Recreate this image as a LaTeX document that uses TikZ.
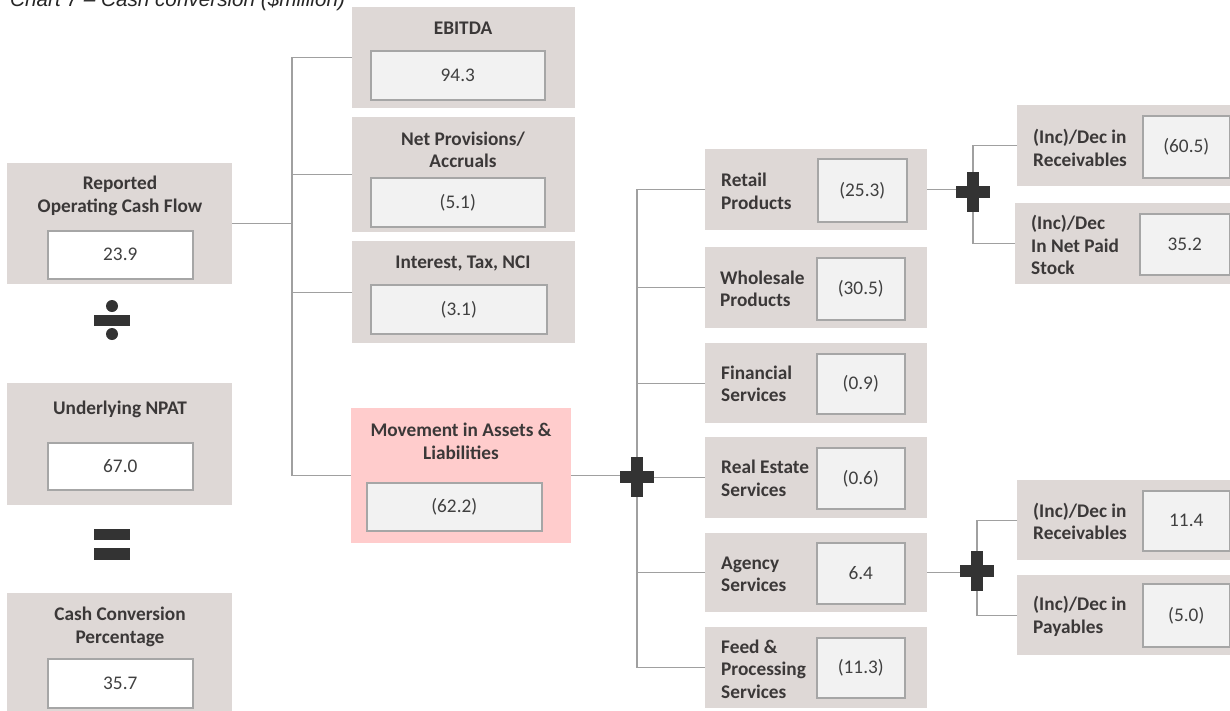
\documentclass[tikz,border=0pt]{standalone}
\usepackage{fontspec}
\setmainfont{Carlito}
\newfontfamily\titlefont{Liberation Sans}
\definecolor{og}{RGB}{222,216,214}
\definecolor{pk}{RGB}{255,204,204}
\definecolor{ig}{RGB}{242,242,242}
\definecolor{ib}{RGB}{166,166,166}
\definecolor{lc}{RGB}{160,160,160}
\definecolor{tc}{RGB}{59,56,56}
\definecolor{vc}{RGB}{64,64,64}
\definecolor{sym}{RGB}{51,51,51}
\tikzset{
 outer/.style={fill=og, draw=none},
 pinkbox/.style={fill=pk, draw=none},
 inner/.style={fill=ig, draw=ib, line width=1.6pt, text=vc, font=\fontsize{19.3}{22.5}\selectfont},
 innerw/.style={inner, fill=white},
 ttl/.style={font=\fontsize{19.3}{22.5}\selectfont\bfseries, text=tc, align=center, inner sep=0pt},
 ttll/.style={ttl, align=left, anchor=west},
 conn/.style={draw=lc, line width=1.3pt},
 symb/.style={fill=sym, draw=none},
 plussign/.pic={\fill[symb] (-17,-6) rectangle (17,6); \fill[symb] (-6,-20) rectangle (6,20);}
}
\newcommand\bx[7]{\node[#1, inner sep=0pt, minimum width={(#5-#3)*1pt}, minimum height={(#6-#4)*1pt}, anchor=north west] (#2) at (#3,-#4) {#7};}
\begin{document}
\begin{tikzpicture}[x=1pt,y=1pt]
\useasboundingbox (0,0) rectangle (1230,-710);
\clip (0,0) rectangle (1230,-710);
% title (cut at top)
\node[anchor=base west, font=\titlefont\itshape\fontsize{20.7}{24}\selectfont, text=black!85, inner sep=0pt] (title) at (10,-6.7) {Chart 7 – Cash conversion (\$million)};
% left column
\bx{outer}{rocf}{7}{163}{232}{284}{}
\node[ttl] (rocft) at (120,-196) {Reported\\Operating Cash Flow};
\bx{innerw}{rocfv}{47}{230}{192}{278}{23.9}
\bx{outer}{npat}{7}{383}{232}{505}{}
\node[ttl] (npatt) at (120,-409) {Underlying NPAT};
\bx{innerw}{npatv}{47}{442}{192}{489}{67.0}
\bx{outer}{ccp}{7}{593}{232}{712}{}
\node[ttl] (ccpt) at (120,-627) {Cash Conversion\\Percentage};
\bx{innerw}{ccpv}{47}{658}{192}{707}{35.7}
% divide and equals
\fill[symb] (112,-306) circle (6);
\fill[symb] (112,-334) circle (6);
\fill[symb] (94,-315) rectangle (130,-326);
\fill[symb] (94,-529) rectangle (130,-540);
\fill[symb] (94,-548) rectangle (130,-560);
% middle column
\bx{outer}{ebit}{352}{7}{575}{108}{}
\node[ttl] (ebitt) at (463,-28) {EBITDA};
\bx{inner}{ebitv}{370}{50}{544}{99}{94.3}
\bx{outer}{netp}{352}{117}{575}{232}{}
\node[ttl] (netpt) at (463,-150) {Net Provisions/\\Accruals};
\bx{inner}{netpv}{370}{177}{544}{226}{(5.1)}
\bx{outer}{intr}{352}{241}{575}{343}{}
\node[ttl] (intrt) at (463,-263) {Interest, Tax, NCI};
\bx{inner}{intrv}{370}{284}{546}{333}{(3.1)}
\bx{pinkbox}{move}{351}{408}{571}{543}{}
\node[ttl] (movet) at (461,-441.5) {Movement in Assets \&\\Liabilities};
\bx{inner}{movev}{366}{482}{541}{530}{(62.2)}
% tree 1
\coordinate (b1) at (292,0);
\draw[conn] (rocf.east) -- (rocf.east -| b1);
\draw[conn] (ebit.west) -- (ebit.west -| b1) -- (move.west -| b1) -- (move.west);
\draw[conn] (netp.west) -- (netp.west -| b1);
\draw[conn] (intr.west) -- (intr.west -| b1);
% right column
\bx{outer}{retail}{705}{149}{927}{230}{}
\node[ttll] (retailt) at (721,-191.5) {Retail\\Products};
\bx{inner}{retailv}{817}{158}{906}{221}{(25.3)}
\bx{outer}{whole}{705}{247}{927}{328}{}
\node[ttll] (wholet) at (720,-289) {Wholesale\\Products};
\bx{inner}{wholev}{816}{257}{904}{319}{(30.5)}
\bx{outer}{fin}{705}{343}{927}{423}{}
\node[ttll] (fint) at (721,-384) {Financial\\Services};
\bx{inner}{finv}{816}{353}{904}{413}{(0.9)}
\bx{outer}{real}{705}{437}{927}{518}{}
\node[ttll] (realt) at (721,-478.5) {Real Estate\\Services};
\bx{inner}{realv}{816}{447}{904}{508}{(0.6)}
\bx{outer}{agency}{705}{533}{927}{612}{}
\node[ttll] (agencyt) at (721,-574.5) {Agency\\Services};
\bx{inner}{agencyv}{816}{542}{904}{603}{6.4}
\bx{outer}{feed}{705}{627}{927}{708}{}
\node[ttll] (feedt) at (721,-669) {Feed \&\\Processing\\Services};
\bx{inner}{feedv}{816}{637}{904}{697}{(11.3)}
% tree 2
\coordinate (p1) at (637,-477);
\draw[conn] (move.east) -- (move.east -| p1);
\draw[conn] (retail.west) -- (retail.west -| p1) -- (feed.west -| p1) -- (feed.west);
\draw[conn] (whole.west) -- (whole.west -| p1);
\draw[conn] (fin.west) -- (fin.west -| p1);
\draw[conn] (real.west) -- (real.west -| p1);
\draw[conn] (agency.west) -- (agency.west -| p1);
\pic at (p1) {plussign};
% far right upper
\bx{outer}{recA}{1017}{105}{1232}{186}{}
\node[ttll] (recAt) at (1033,-148) {(Inc)/Dec in\\Receivables};
\bx{inner}{recAv}{1142}{115}{1229}{177}{(60.5)}
\bx{outer}{stock}{1015}{203}{1232}{284}{}
\node[ttll] (stockt) at (1031,-245) {(Inc)/Dec\\In Net Paid\\Stock};
\bx{inner}{stockv}{1139}{213}{1229}{274}{35.2}
\coordinate (p2) at (973,-192);
\draw[conn] (retail.east) -- (retail.east -| p2);
\draw[conn] (recA.west) -- (recA.west -| p2) -- (stock.west -| p2) -- (stock.west);
\pic at (p2) {plussign};
% far right lower
\bx{outer}{recB}{1017}{480}{1232}{560}{}
\node[ttll] (recBt) at (1033,-521.5) {(Inc)/Dec in\\Receivables};
\bx{inner}{recBv}{1142}{490}{1229}{550}{11.4}
\bx{outer}{pay}{1017}{575}{1232}{655}{}
\node[ttll] (payt) at (1033,-616.5) {(Inc)/Dec in\\Payables};
\bx{inner}{payv}{1142}{583}{1229}{646}{(5.0)}
\coordinate (p3) at (977,-571);
\draw[conn] (agency.east) -- (agency.east -| p3);
\draw[conn] (recB.west) -- (recB.west -| p3) -- (pay.west -| p3) -- (pay.west);
\pic at (p3) {plussign};
\end{tikzpicture}
\end{document}
